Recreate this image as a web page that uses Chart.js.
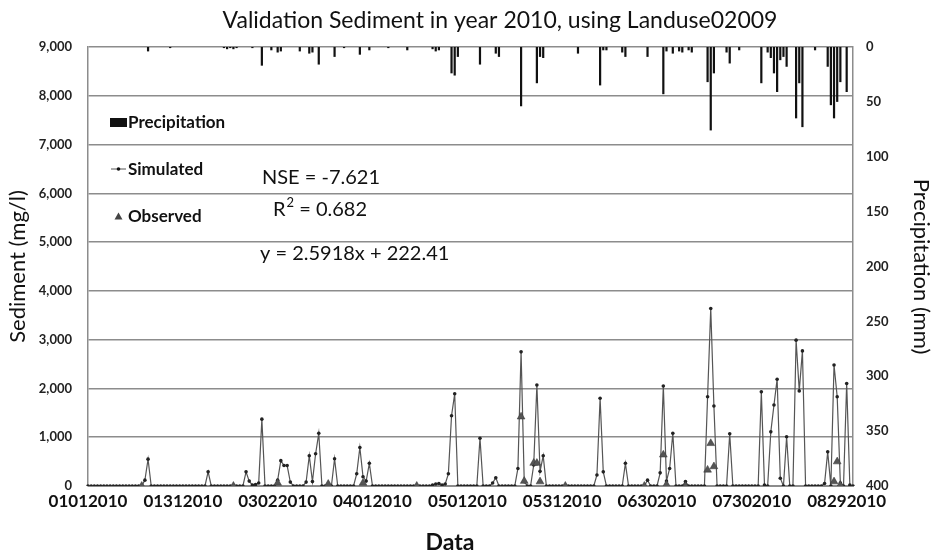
<!DOCTYPE html>
<html><head><meta charset="utf-8">
<script src="https://cdn.jsdelivr.net/npm/chart.js@4.4.1/dist/chart.umd.min.js"></script>
<style>html,body{margin:0;padding:0;background:#fff}</style>
</head><body>
<canvas id="c" width="934" height="557"></canvas>
<script>
// ---- Data ----
const titleText = "Validation Sediment in year 2010, using Landuse02009";
const xTitle = "Data";
const xTickEvery = 30;
// daily categories 01012010 .. 08312010
const dates = [];
for (let i = 0; i < 243; i++) {
  const d = new Date(Date.UTC(2010, 0, 1 + i));
  const mm = String(d.getUTCMonth() + 1).padStart(2, '0');
  const dd = String(d.getUTCDate()).padStart(2, '0');
  dates.push(mm + dd + '2010');
}
const simulated = [
  0,0,0,0,0,0,0,0,0,0,
  0,0,0,0,0,0,0,0,120,550,
  0,0,0,0,0,0,0,0,0,0,
  0,0,0,0,0,0,0,0,290,0,
  0,0,0,0,0,0,0,0,0,0,
  290,100,20,30,60,1370,0,0,0,0,
  120,520,420,420,80,0,0,0,0,80,
  620,90,660,1080,0,0,20,0,560,0,
  0,0,0,0,0,250,790,190,100,465,
  0,0,0,0,0,0,0,0,0,0,
  0,0,0,0,0,0,0,0,0,20,
  40,50,20,40,250,1440,1890,0,0,0,
  0,0,0,0,980,0,0,0,60,170,
  0,0,0,0,0,0,360,2750,90,0,
  0,430,2070,300,620,0,0,0,0,0,
  0,0,0,0,0,0,0,0,0,0,
  0,225,1800,290,0,0,0,0,0,0,
  465,0,0,0,0,0,0,120,0,0,
  0,270,2050,100,360,1080,0,0,0,90,
  0,0,0,0,0,0,1830,3640,1640,0,
  0,0,0,1070,0,0,0,0,0,0,
  0,0,0,1930,20,0,1110,1660,2190,160,
  0,1010,0,0,2990,1950,2770,0,0,0,
  0,0,0,50,700,0,2480,1830,60,0,
  2100,20,0
];
const n = null;
const observed = [
  n,n,n,n,n,n,n,n,n,n,
  n,n,n,n,n,n,n,0,n,n,
  n,n,n,n,n,n,n,n,n,n,
  n,n,n,n,n,n,n,n,n,n,
  n,n,n,n,n,n,0,n,n,n,
  n,n,n,n,n,n,n,n,n,n,
  60,n,n,n,n,n,n,n,n,n,
  n,n,n,n,n,n,40,n,n,n,
  n,n,n,n,n,n,n,60,n,n,
  n,n,n,n,n,n,n,n,n,n,
  n,n,n,n,0,n,n,n,n,n,
  n,n,n,n,n,n,n,n,n,n,
  n,n,n,n,n,n,n,n,n,n,
  n,n,n,n,n,n,n,1420,100,n,
  n,470,470,90,n,n,n,n,n,n,
  n,0,n,n,n,n,n,n,n,n,
  n,n,n,n,n,n,n,n,n,n,
  n,n,n,n,n,n,0,n,n,n,
  n,n,640,30,n,n,n,n,n,0,
  n,n,n,n,n,n,330,875,400,n,
  n,n,n,n,n,n,n,n,n,n,
  n,n,n,n,n,n,n,n,n,n,
  n,n,n,n,n,n,n,n,n,n,
  n,n,n,n,n,n,90,500,20,n,
  n,n,n
];
const precipitation = [
  0,0,0,0,0,0,0,0,0,0,
  0,0,0,0,0,0,0,0,0,4,
  0,0,0,0,0,0,1,0,0,0,
  0,0,0,0,0,0,0,0,0,0,
  0,0,0,1,2,1,2,1,0,0,
  0,0,1,0,0,17,0,0,3,0,
  5,4,0,0,0,0,0,4,0,0,
  6,5,0,16,0,0,0,0,9,0,
  0,1,0,0,0,0,7,0,0,3,
  0,0,0,0,0,1,0,0,0,0,
  0,3,0,0,0,0,0,0,0,2,
  4,3,0,0,0,24,26,9,0,0,
  0,0,0,0,16,0,0,0,0,6,
  9,0,0,0,0,0,0,54,0,0,
  0,0,33,9,10,0,0,0,0,0,
  0,0,0,0,0,6,0,0,0,0,
  0,0,35,3,3,0,0,0,0,5,
  9,0,0,0,0,0,0,9,0,0,
  0,0,43,4,0,6,0,4,5,0,
  3,5,0,0,0,0,32,76,24,0,
  0,0,5,15,0,0,3,0,0,0,
  0,0,0,33,0,5,10,24,41,12,
  9,18,0,0,65,33,73,0,0,0,
  3,0,0,0,18,53,65,50,32,0,
  41,0,0
];
const legendItems = ["Precipitation", "Simulated", "Observed"];
const nseText = "NSE = -7.621";
const r2Parts = ["R", "2", " = 0.682"];
const eqText = "y = 2.5918x + 222.41";

// ---- Overlay text plugin ----
const overlay = {
  id: 'overlay',
  afterDraw(chart) {
    const ctx = chart.ctx;
    ctx.save();
    ctx.fillStyle = '#111';
    ctx.textBaseline = 'middle';
    ctx.textAlign = 'center';
    ctx.font = '23px Lato';
    ctx.fillText(titleText, 500, 21);

    ctx.font = 'bold 23px Lato';
    ctx.fillText(xTitle, 450, 543);

    // legend
    ctx.textAlign = 'left';
    ctx.font = 'bold 17px Lato';
    ctx.fillStyle = '#111';
    ctx.fillRect(110, 118, 17, 9);
    ctx.fillText(legendItems[0], 128, 123);
    ctx.strokeStyle = '#555'; ctx.lineWidth = 1;
    ctx.beginPath(); ctx.moveTo(111, 169); ctx.lineTo(126, 169); ctx.stroke();
    ctx.beginPath(); ctx.arc(118.5, 169, 1.8, 0, Math.PI * 2); ctx.fill();
    ctx.fillText(legendItems[1], 128, 170);
    ctx.fillStyle = '#444';
    ctx.beginPath(); ctx.moveTo(118.5, 212.5); ctx.lineTo(122.5, 219.5); ctx.lineTo(114.5, 219.5); ctx.closePath(); ctx.fill();
    ctx.fillStyle = '#111';
    ctx.fillText(legendItems[2], 128, 217);

    // stats
    ctx.font = '20px Lato';
    ctx.fillText(nseText, 262, 178);
    ctx.fillText(eqText, 260, 254);
    let x = 273;
    ctx.fillText(r2Parts[0], x, 210);
    x += ctx.measureText(r2Parts[0]).width + 1;
    ctx.font = '13px Lato';
    ctx.fillText(r2Parts[1], x, 203);
    x += ctx.measureText(r2Parts[1]).width;
    ctx.font = '20px Lato';
    ctx.fillText(r2Parts[2], x, 210);
    ctx.restore();
  }
};

const tickFont = { family: 'Lato', weight: 'bold', size: 13 };

new Chart(document.getElementById('c'), {
  data: {
    labels: dates,
    datasets: [
      {
        type: 'line', label: 'Simulated', data: simulated, yAxisID: 'y',
        borderColor: '#555', borderWidth: 1.2, tension: 0,
        pointRadius: 1.8, pointBackgroundColor: '#222', pointBorderColor: '#222', pointBorderWidth: 0,
        order: 1
      },
      {
        type: 'line', label: 'Observed', data: observed, yAxisID: 'y',
        showLine: false, pointStyle: 'triangle', pointRadius: 4.5,
        pointBackgroundColor: '#555', pointBorderColor: '#333', pointBorderWidth: 0.5,
        order: 0
      },
      {
        type: 'bar', label: 'Precipitation', data: precipitation, yAxisID: 'y2',
        backgroundColor: '#111', barPercentage: 0.7, categoryPercentage: 1,
        order: 2
      }
    ]
  },
  options: {
    responsive: false, animation: false, devicePixelRatio: 1,
    layout: { padding: { top: 47, left: 0, right: 0, bottom: 0 } },
    plugins: { legend: { display: false }, title: { display: false }, tooltip: { enabled: false } },
    scales: {
      x: {
        type: 'category', offset: false,
        grid: { display: false, drawTicks: false },
        border: { display: true, color: '#8c8c8c', width: 1 },
        ticks: {
          autoSkip: false, maxRotation: 0, minRotation: 0, padding: 5,
          color: '#111', font: { family: 'Lato', weight: 'bold', size: 17 },
          callback: (v, i) => (i % xTickEvery === 0 ? dates[i] : '')
        },
        afterFit: s => { s.height = 71; }
      },
      y: {
        position: 'left', min: 0, max: 9000,
        ticks: { stepSize: 1000, padding: 16, color: '#222', font: tickFont,
          callback: v => v.toLocaleString('en-US') },
        grid: { color: '#8c8c8c', lineWidth: 1.5, drawTicks: false },
        border: { display: true, color: '#8c8c8c', width: 1.5 },
        title: { display: true, text: 'Sediment (mg/l)', color: '#111', font: { family: 'Lato', size: 22 }, padding: { top: 5, bottom: 0 } },
        afterFit: s => { s.width = 88; }
      },
      y2: {
        position: 'right', min: 0, max: 400, reverse: true,
        ticks: { stepSize: 50, padding: 13, color: '#222', font: tickFont },
        grid: { display: false, drawTicks: false },
        border: { display: true, color: '#8c8c8c', width: 1.5 },
        title: { display: true, text: 'Precipitation (mm)', color: '#111', font: { family: 'Lato', size: 22 }, padding: { top: 0, bottom: 0 } },
        afterFit: s => { s.width = 81; }
      }
    }
  },
  plugins: [overlay]
});
</script>
</body></html>
